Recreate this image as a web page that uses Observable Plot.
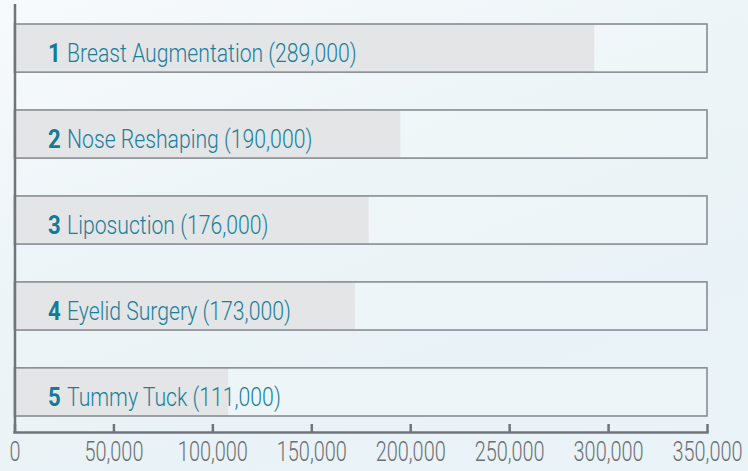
<!DOCTYPE html>
<html>
<head>
<meta charset="utf-8">
<script src="https://cdn.jsdelivr.net/npm/d3@7"></script>
<script src="https://cdn.jsdelivr.net/npm/@observablehq/plot@0.6"></script>
<style>
  html, body { margin: 0; padding: 0; }
  body {
    width: 748px; height: 471px; overflow: hidden;
    background: linear-gradient(160deg, #f7fafc 0%, #eef5f8 35%, #e9f2f6 70%, #eaf3f7 100%);
    font-family: Roboto, "Noto Sans", sans-serif;
  }
  #chart svg { display: block; background: transparent; }
</style>
</head>
<body>
<div id="chart"></div>
<script>
const ranks = [1, 2, 3, 4, 5];
const procedures = ["Breast Augmentation", "Nose Reshaping", "Liposuction", "Eyelid Surgery", "Tummy Tuck"];
const counts = [289000, 190000, 176000, 173000, 111000];
const barLengths = [293000, 195000, 179000, 172000, 108000]; // bar ends as drawn
const xTicks = [0, 50000, 100000, 150000, 200000, 250000, 300000, 350000];
const xMax = 350000;

const fmt = d3.format(",");
const data = procedures.map((p, i) => ({
  rank: ranks[i], name: p, count: counts[i], len: barLengths[i],
  label: `${p} (${fmt(counts[i])})`
}));

const font = 'Roboto, "Noto Sans", sans-serif';

const chart = Plot.plot({
  width: 748,
  height: 471,
  marginTop: 4,
  marginBottom: 39,
  marginLeft: 14,
  marginRight: 41,
  style: { background: "transparent", fontFamily: font, overflow: "visible" },
  x: { domain: [0, xMax], range: [14.5, 707], label: null },
  y: { domain: procedures, range: [24, 416], paddingInner: 0.44, paddingOuter: 0, round: false, axis: null },
  marks: [
    Plot.barX(data, { x1: 0, x2: xMax, y: "name", fill: "#f2f7f9", fillOpacity: 0.5 }),
    Plot.barX(data, { x: "len", y: "name", fill: "#e4e5e7" }),
    Plot.barX(data, { x1: 0, x2: xMax, y: "name", fill: "none", stroke: "#878d92", strokeWidth: 1.6 }),
    Plot.ruleX([0], { stroke: "#6f757a", strokeWidth: 2.5 }),
    Plot.frame({ anchor: "bottom", stroke: "#6f757a", strokeWidth: 2.5 }),
    Plot.axisX({
      ticks: xTicks, tickSize: -8, tickPadding: 17, tickFormat: fmt, label: null,
      stroke: "#6f757a", strokeWidth: 2.5, fill: "#6b7075",
      fontSize: 28, fontWeight: 300, fontFamily: font, className: "xaxis"
    }),
    Plot.text(data, {
      x: 0, y: "name", text: d => String(d.rank), dx: 33, dy: 5.5,
      textAnchor: "start", fill: "#137a97", fontWeight: "bold", fontSize: 26, fontFamily: font,
      className: "rank"
    }),
    Plot.text(data, {
      x: 0, y: "name", text: "label", dx: 52, dy: 5.5,
      textAnchor: "start", fill: "#1a7f9c", fontSize: 26, fontWeight: 300, fontFamily: font,
      className: "name"
    })
  ]
});
document.getElementById("chart").appendChild(chart);

// Condense glyphs horizontally to mimic a condensed typeface
function condense(selector, k) {
  chart.querySelectorAll(selector + " text").forEach(t => {
    const w = t.getComputedTextLength();
    t.setAttribute("textLength", (w * k).toFixed(1));
    t.setAttribute("lengthAdjust", "spacingAndGlyphs");
  });
}
condense(".name", 0.815);
condense(".rank", 0.85);
condense(".xaxis", 0.71);
</script>
</body>
</html>
